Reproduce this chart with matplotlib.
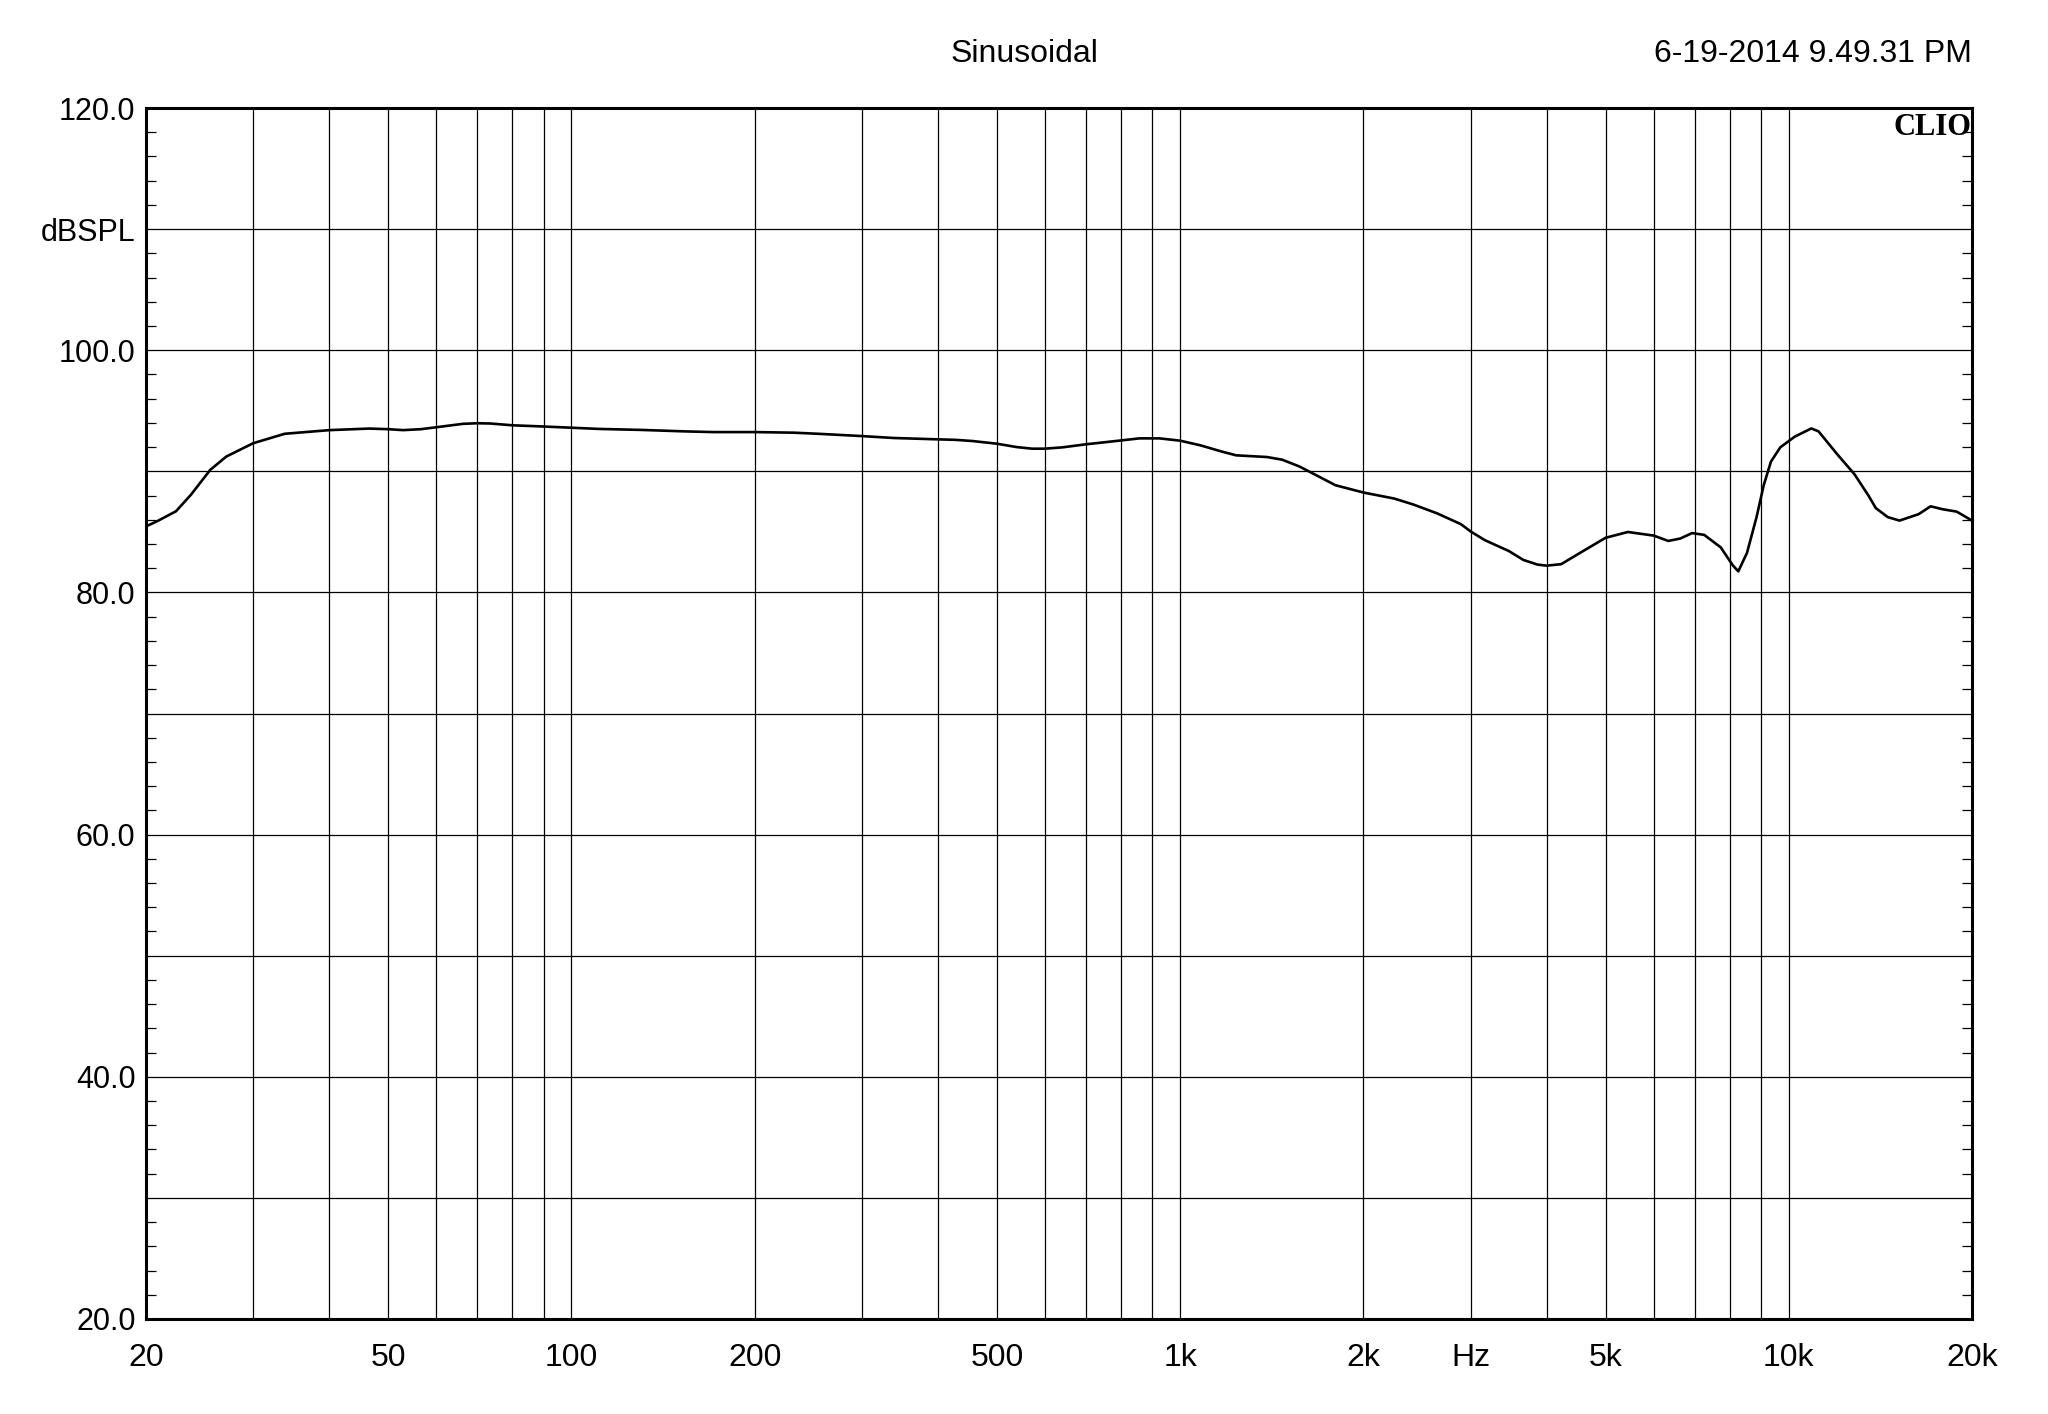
import numpy as np
import matplotlib.pyplot as plt

plt.rcParams['font.family'] = ['Liberation Sans', 'DejaVu Sans']

# Frequency response
freq = [20, 20.9, 22.4, 23.7, 25.5, 27.1, 30, 33.8, 40, 46.5, 50, 52.9, 56.6, 60,
        66.3, 70, 73.5, 80, 90, 100, 111, 130, 153, 171, 200, 232, 254, 300, 339,
        400, 427, 456, 500, 539, 571, 600, 641, 700, 800, 857, 925, 1000, 1081,
        1167, 1236, 1389, 1471, 1570, 1685, 1800, 2000, 2248, 2416, 2646, 2894,
        3000, 3168, 3467, 3664, 3864, 4000, 4227, 4542, 5000, 5441, 6000, 6340,
        6634, 6937, 7262, 7730, 8090, 8261, 8538, 8852, 9098, 9347, 9684, 10227,
        10890, 11190, 12020, 12820, 13520, 13900, 14540, 15200, 16340, 17100,
        17888, 18880, 20000]
spl = [85.45, 85.9, 86.7, 88.06, 90.12, 91.22, 92.32, 93.1, 93.4, 93.53, 93.48,
       93.4, 93.48, 93.64, 93.92, 93.97, 93.95, 93.8, 93.7, 93.6, 93.5, 93.42,
       93.3, 93.24, 93.24, 93.19, 93.1, 92.91, 92.75, 92.64, 92.6, 92.5, 92.28,
       92.0, 91.87, 91.87, 91.98, 92.23, 92.55, 92.72, 92.72, 92.53, 92.14, 91.65,
       91.32, 91.18, 90.96, 90.4, 89.6, 88.85, 88.25, 87.75, 87.26, 86.52, 85.63,
       85.04, 84.31, 83.42, 82.68, 82.3, 82.21, 82.33, 83.27, 84.51, 84.99, 84.69,
       84.25, 84.45, 84.9, 84.75, 83.72, 82.24, 81.74, 83.27, 86.22, 88.88, 90.8,
       91.98, 92.86, 93.54, 93.3, 91.39, 89.76, 87.99, 86.96, 86.22, 85.93, 86.46,
       87.11, 86.87, 86.67, 85.93]

# Axis ticks
x_ticks = [20, 50, 100, 200, 500, 1000, 2000, 3000, 5000, 10000, 20000]
x_labels = ['20', '50', '100', '200', '500', '1k', '2k', 'Hz', '5k', '10k', '20k']
x_grid = [30, 40, 60, 70, 80, 90, 300, 400, 600, 700, 800, 900,
          4000, 6000, 7000, 8000, 9000]
y_ticks = [20, 30, 40, 50, 60, 70, 80, 90, 100, 110, 120]
y_labels = ['20.0', '', '40.0', '', '60.0', '', '80.0', '', '100.0', 'dBSPL', '120.0']
y_minor = list(range(22, 120, 2))

fig = plt.figure(figsize=(20.48, 14.14), dpi=100)
ax = fig.add_axes([0.0713, 0.0672, 0.8916, 0.8564])

ax.semilogx(freq, spl, color='black', lw=1.9, zorder=3)
ax.set_xlim(20, 20000)
ax.set_ylim(20, 120)

ax.set_xticks(x_ticks)
ax.set_xticklabels(x_labels, fontsize=23)
ax.set_xticks(x_grid, minor=True)
ax.set_xticklabels([''] * len(x_grid), minor=True)
ax.set_yticks(y_ticks)
ax.set_yticklabels(y_labels, fontsize=22)
ax.set_yticks(y_minor, minor=True)

ax.grid(True, which='both', axis='x', color='black', lw=0.9)
ax.grid(True, which='major', axis='y', color='black', lw=0.9)

ax.tick_params(axis='x', which='both', length=0, pad=17)
ax.tick_params(axis='y', which='major', length=0, pad=7.5)
ax.tick_params(axis='y', which='minor', direction='in', length=7.2, width=0.9,
               left=True, right=True)

for s in ax.spines.values():
    s.set_linewidth(2.2)

ax.text(0.9995, 0.996, 'CLIO', transform=ax.transAxes, ha='right', va='top',
        family='Liberation Serif', fontweight='bold', fontsize=22)

fig.text(0.5, 0.962, 'Sinusoidal', ha='center', va='center', fontsize=23)
fig.text(0.963, 0.962, '6-19-2014 9.49.31 PM', ha='right', va='center', fontsize=23)

fig.savefig('out.png', dpi=100)
